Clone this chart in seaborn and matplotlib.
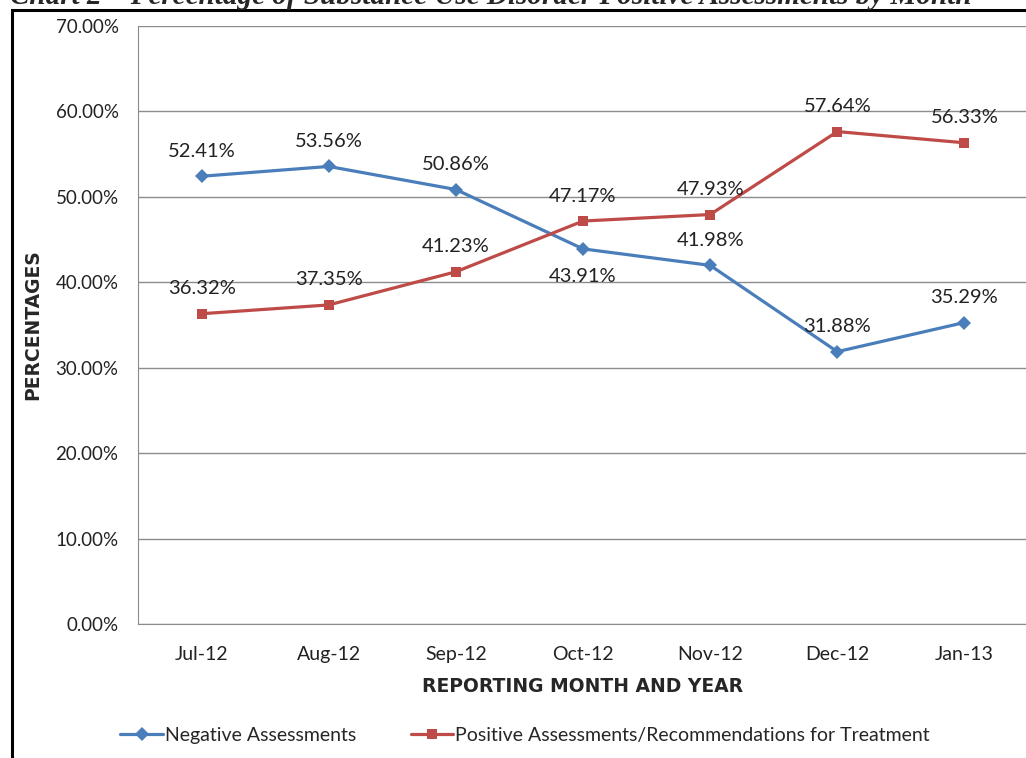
import pandas as pd
import seaborn as sns
import matplotlib.pyplot as plt
from matplotlib.patches import Rectangle
from matplotlib.ticker import FuncFormatter

months = ["Jul-12", "Aug-12", "Sep-12", "Oct-12", "Nov-12", "Dec-12", "Jan-13"]
negative = [52.41, 53.56, 50.86, 43.91, 41.98, 31.88, 35.29]
positive = [36.32, 37.35, 41.23, 47.17, 47.93, 57.64, 56.33]
neg_name = "Negative Assessments"
pos_name = "Positive Assessments/Recommendations for Treatment"

data = pd.DataFrame({
    "Month": months * 2,
    "Pct": negative + positive,
    "Series": [neg_name] * len(months) + [pos_name] * len(months),
})

sns.set_style("white")
plt.rcParams['font.family'] = ['Lato', 'DejaVu Sans']

fig = plt.figure(figsize=[10.26, 7.58], dpi=100)
ax = fig.add_axes([138 / 1026, 134 / 758, 890 / 1026, 598 / 758])

blue = '#4A7EBB'
red = '#BE4B48'
ax = sns.lineplot(data=data, x="Month", y="Pct", hue="Series", style="Series",
                  palette={neg_name: blue, pos_name: red},
                  markers={neg_name: "D", pos_name: "s"}, dashes=False,
                  sort=False, lw=2.3, markersize=7, markeredgewidth=0, ax=ax)

# data labels
for i, v in enumerate(negative):
    off = -28 if months[i] == "Oct-12" else 25
    ax.annotate(f"{v:.2f}%", (i, v), xytext=(0, off), textcoords='offset pixels',
                ha='center', va='center', fontsize=14.5, color='#222222')
for i, v in enumerate(positive):
    ax.annotate(f"{v:.2f}%", (i, v), xytext=(0, 25), textcoords='offset pixels',
                ha='center', va='center', fontsize=14.5, color='#222222')

ax.set_xlim(-0.5, 6.5)
ax.set_ylim(0, 70)
ax.set_yticks(range(0, 71, 10))
ax.yaxis.set_major_formatter(FuncFormatter(lambda v, p: f"{v:.2f}%"))
ax.grid(axis='y', color='#8C8C8C', lw=1)
ax.set_axisbelow(True)
for s in ['top', 'right']:
    ax.spines[s].set_visible(False)
for s in ['left', 'bottom']:
    ax.spines[s].set_color('#8C8C8C')
ax.tick_params(axis='both', length=0, colors='#222222')
ax.tick_params(axis='x', pad=16, labelsize=14)
ax.tick_params(axis='y', pad=14, labelsize=13.5)

ax.set_ylabel('PERCENTAGES', fontsize=13.5, fontweight='bold', family='DejaVu Sans')
ax.set_xlabel('REPORTING MONTH AND YEAR', fontsize=13.5, fontweight='bold', family='DejaVu Sans',
              labelpad=10)
ax.yaxis.set_label_coords(-0.108, 0.5)

ax.legend(loc='center', bbox_to_anchor=(525 / 1026, 23 / 758), bbox_transform=fig.transFigure,
          ncol=2, frameon=False, fontsize=14, handlelength=2.2, columnspacing=2.8,
          handletextpad=0.1)

# outer frame and the caption that is cut off at the top
fig.add_artist(Rectangle((12 / 1026, -0.01), 1.1, (758 - 10) / 758 + 0.01,
                         transform=fig.transFigure, fill=False, lw=2.2, color='black'))
fig.text(10 / 1026, 1 - 4 / 758, "Chart 2 \u2013 Percentage of Substance Use Disorder Positive Assessments by Month",
         fontsize=21, fontweight='bold', fontstyle='italic', family='Liberation Serif',
         va='baseline', ha='left')

plt.savefig('out.png', dpi=100)
